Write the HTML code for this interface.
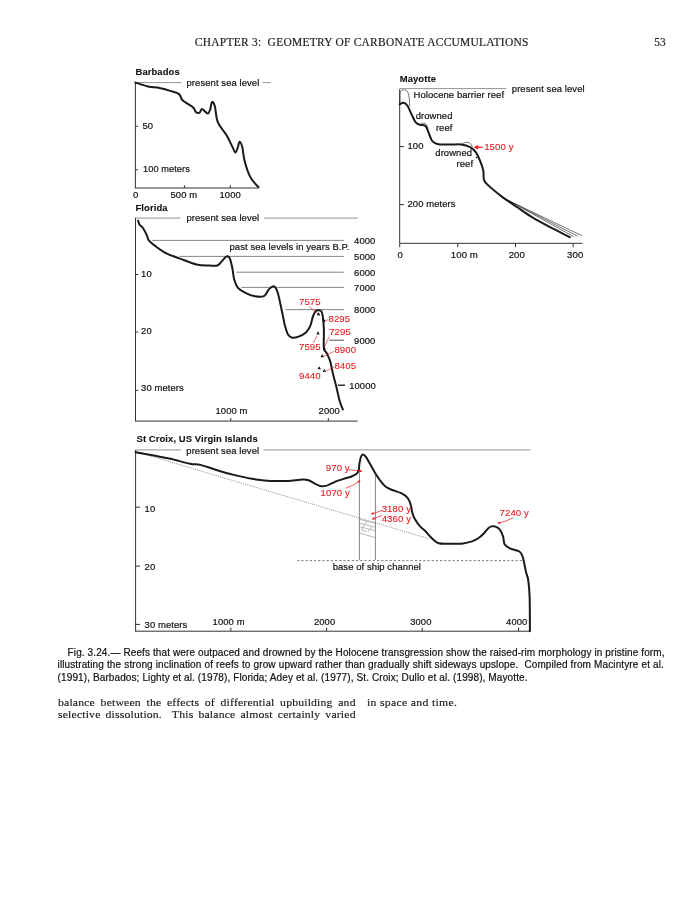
<!DOCTYPE html>
<html><head><meta charset="utf-8"><title>Chapter 3</title>
<style>
html,body{margin:0;padding:0;background:#fff;}
body{width:695px;height:900px;position:relative;overflow:hidden;font-family:"Liberation Sans",sans-serif;color:#111;}
#fig{position:absolute;left:0;top:0;}
#fig text{font-family:"Liberation Sans",sans-serif;letter-spacing:0.09px;}
.hdr{position:absolute;top:34.6px;font-family:"Liberation Serif",serif;font-size:11.45px;line-height:14px;color:#222;white-space:pre;}
#h1{left:194.8px;letter-spacing:0.27px;}
.hdr{-webkit-text-stroke:0.18px #222;}
#h2{left:654.3px;}
.cap{position:absolute;left:57.6px;width:606.4px;top:646.9px;font-size:10px;letter-spacing:0.11px;line-height:12.45px;text-align:justify;color:#111;-webkit-text-stroke:0.2px #111;}
.cap .l{display:block;text-align-last:justify;white-space:nowrap;}
.cap .l.last{text-align-last:left;}
.body{position:absolute;font-family:"Liberation Serif",serif;font-size:11.2px;letter-spacing:0.15px;line-height:12.7px;color:#1a1a1a;-webkit-text-stroke:0.15px #1a1a1a;transform-origin:0 0;transform:scaleX(1.05);}
.body .l{display:block;text-align:justify;text-align-last:justify;white-space:nowrap;}
#b1{left:57.9px;top:695.7px;width:283.5px;}
#b2{left:367.2px;top:695.7px;letter-spacing:0.29px;}
#wrap{position:absolute;left:0;top:0;width:695px;height:900px;will-change:transform;}
</style></head><body><div id="wrap">
<div class="hdr" id="h1">CHAPTER 3:&nbsp; GEOMETRY OF CARBONATE ACCUMULATIONS</div>
<div class="hdr" id="h2">53</div>
<svg id="fig" width="695" height="900" viewBox="0 0 695 900">
<text x="135.5" y="74.5" fill="#111" stroke="#111" stroke-width="0.1" font-size="9.45" font-weight="bold" text-anchor="start">Barbados</text>
<line x1="135.4" y1="82.6" x2="181.4" y2="82.6" stroke="#777" stroke-width="0.8" />
<line x1="262.4" y1="82.6" x2="270.7" y2="82.6" stroke="#777" stroke-width="0.8" />
<text x="186.5" y="85.8" fill="#111" stroke="#111" stroke-width="0.2" font-size="9.45"  text-anchor="start">present sea level</text>
<line x1="135.4" y1="82.6" x2="135.4" y2="188.0" stroke="#333" stroke-width="1" />
<line x1="134.9" y1="188.0" x2="258.8" y2="188.0" stroke="#333" stroke-width="1" />
<line x1="135.4" y1="126.3" x2="138.0" y2="126.3" stroke="#333" stroke-width="1" />
<line x1="135.4" y1="169.8" x2="138.0" y2="169.8" stroke="#333" stroke-width="1" />
<line x1="184.4" y1="188.0" x2="184.4" y2="185.2" stroke="#333" stroke-width="1" />
<line x1="230.3" y1="188.0" x2="230.3" y2="185.2" stroke="#333" stroke-width="1" />
<text x="142.5" y="128.6" fill="#111" stroke="#111" stroke-width="0.2" font-size="9.45"  text-anchor="start">50</text>
<text x="143.0" y="172.1" fill="#111" stroke="#111" stroke-width="0.2" font-size="9.2"  text-anchor="start">100 meters</text>
<text x="133.0" y="197.6" fill="#111" stroke="#111" stroke-width="0.2" font-size="9.45"  text-anchor="start">0</text>
<text x="170.5" y="197.6" fill="#111" stroke="#111" stroke-width="0.2" font-size="9.45"  text-anchor="start">500 m</text>
<text x="219.5" y="197.6" fill="#111" stroke="#111" stroke-width="0.2" font-size="9.45"  text-anchor="start">1000</text>
<path d="M135.4 82.6C137.5 83.2 144.0 85.6 148.0 86.5C152.0 87.4 155.7 87.3 159.5 88.1C163.3 88.9 167.7 90.1 171.0 91.1C174.3 92.1 177.2 92.6 179.1 94.1C181.0 95.6 180.3 98.1 182.6 100.3C184.9 102.5 190.8 105.3 192.9 107.2C195.0 109.1 194.7 110.5 195.4 111.4C196.1 112.4 196.6 112.7 197.3 112.9C198.0 113.1 198.9 113.3 199.7 112.6C200.5 111.9 201.0 109.1 201.9 108.9C202.8 108.7 204.2 110.8 205.2 111.6C206.2 112.4 207.2 113.9 208.0 113.6C208.8 113.2 209.5 111.4 210.2 109.5C210.9 107.6 211.2 102.7 212.0 102.1C212.8 101.5 213.8 102.7 214.8 106.0C215.8 109.3 215.9 117.4 217.8 122.2C219.7 127.0 223.7 130.4 226.3 134.8C228.9 139.2 231.7 145.7 233.2 148.6C234.7 151.5 234.7 152.7 235.5 152.5C236.3 152.3 237.1 149.3 237.8 147.5C238.5 145.7 238.8 141.7 239.6 141.7C240.4 141.7 241.6 144.2 242.4 147.5C243.2 150.8 243.3 156.3 244.7 161.3C246.0 166.3 248.2 173.1 250.5 177.4C252.8 181.7 257.2 185.6 258.5 187.2" fill="none" stroke="#1a1a1a" stroke-width="2" stroke-linejoin="round" stroke-linecap="round" />
<text x="399.7" y="81.6" fill="#111" stroke="#111" stroke-width="0.1" font-size="9.45" font-weight="bold" text-anchor="start">Mayotte</text>
<line x1="399.7" y1="88.6" x2="506.3" y2="88.6" stroke="#777" stroke-width="0.8" />
<text x="511.8" y="91.6" fill="#111" stroke="#111" stroke-width="0.2" font-size="9.45"  text-anchor="start">present sea level</text>
<text x="413.6" y="97.8" fill="#111" stroke="#111" stroke-width="0.2" font-size="9.45"  text-anchor="start">Holocene barrier reef</text>
<line x1="399.7" y1="89.2" x2="399.7" y2="243.3" stroke="#333" stroke-width="1" />
<line x1="399.7" y1="243.3" x2="582.5" y2="243.3" stroke="#333" stroke-width="1" />
<line x1="399.7" y1="146.6" x2="404.0" y2="146.6" stroke="#333" stroke-width="1" />
<line x1="399.7" y1="204.6" x2="404.0" y2="204.6" stroke="#333" stroke-width="1" />
<line x1="399.7" y1="243.3" x2="399.7" y2="247.2" stroke="#333" stroke-width="1" />
<line x1="457.7" y1="243.3" x2="457.7" y2="247.2" stroke="#333" stroke-width="1" />
<line x1="515.5" y1="243.3" x2="515.5" y2="247.2" stroke="#333" stroke-width="1" />
<line x1="573.2" y1="243.3" x2="573.2" y2="247.2" stroke="#333" stroke-width="1" />
<text x="407.5" y="149.0" fill="#111" stroke="#111" stroke-width="0.2" font-size="9.45"  text-anchor="start">100</text>
<text x="407.5" y="206.7" fill="#111" stroke="#111" stroke-width="0.2" font-size="9.45"  text-anchor="start">200 meters</text>
<text x="397.5" y="257.9" fill="#111" stroke="#111" stroke-width="0.2" font-size="9.45"  text-anchor="start">0</text>
<text x="450.8" y="257.9" fill="#111" stroke="#111" stroke-width="0.2" font-size="9.6"  text-anchor="start">100 m</text>
<text x="508.7" y="257.9" fill="#111" stroke="#111" stroke-width="0.2" font-size="9.6"  text-anchor="start">200</text>
<text x="567.1" y="257.9" fill="#111" stroke="#111" stroke-width="0.2" font-size="9.6"  text-anchor="start">300</text>
<text x="415.7" y="118.7" fill="#111" stroke="#111" stroke-width="0.2" font-size="9.45"  text-anchor="start">drowned</text>
<text x="435.9" y="130.8" fill="#111" stroke="#111" stroke-width="0.2" font-size="9.45"  text-anchor="start">reef</text>
<text x="435.3" y="155.8" fill="#111" stroke="#111" stroke-width="0.2" font-size="9.45"  text-anchor="start">drowned</text>
<text x="456.5" y="167.3" fill="#111" stroke="#111" stroke-width="0.2" font-size="9.45"  text-anchor="start">reef</text>
<path d="M399.9 103.7 L400 93 C400.5 89.5 404 89.3 406.6 90.7 C408.8 92.5 409.6 98 409.6 105.8" fill="none" stroke="#1a1a1a" stroke-width="0.6" stroke-linejoin="round" stroke-linecap="round" />
<path d="M420.2 124.6 C422 123 425 123 426.3 124.5 C427.3 125.8 427.6 127 427.8 128.4" fill="none" stroke="#1a1a1a" stroke-width="0.6" stroke-linejoin="round" stroke-linecap="round" />
<path d="M461 144.3 C463 142.2 468 141.8 469.6 142.8 C471 143.8 471.8 145.5 472.2 146.8" fill="none" stroke="#1a1a1a" stroke-width="0.6" stroke-linejoin="round" stroke-linecap="round" />
<line x1="507.0" y1="199.8" x2="573.7" y2="236.6" stroke="#1a1a1a" stroke-width="0.6" />
<line x1="507.0" y1="199.8" x2="577.3" y2="236.0" stroke="#1a1a1a" stroke-width="0.6" />
<line x1="507.0" y1="199.8" x2="581.9" y2="235.7" stroke="#1a1a1a" stroke-width="0.6" />
<path d="M399.7 104.3C400.4 104.0 402.3 102.5 403.6 102.8C404.9 103.0 406.1 103.8 407.5 105.8C408.9 107.8 410.4 112.1 411.8 114.9C413.2 117.7 414.3 120.8 415.7 122.4C417.1 124.1 418.5 124.2 420.2 124.8C421.9 125.4 424.2 124.7 425.7 126.3C427.2 127.9 428.2 132.0 429.3 134.5C430.4 137.0 430.8 139.5 432.3 141.1C433.8 142.7 435.3 143.6 438.3 144.2C441.3 144.8 446.6 144.4 450.4 144.5C454.2 144.6 457.7 144.1 461.0 144.5C464.3 144.9 467.6 145.8 470.1 147.2C472.6 148.5 474.4 150.2 476.1 152.6C477.8 155.0 479.2 158.7 480.4 161.7C481.6 164.7 482.7 167.9 483.3 170.8C483.9 173.7 483.2 176.9 483.9 179.2C484.5 181.5 484.2 181.5 487.2 184.4C490.2 187.3 496.9 192.8 501.8 196.6C506.8 200.4 511.9 203.6 516.9 207.0C521.9 210.4 526.5 213.8 532.0 217.2C537.5 220.6 543.8 223.9 550.1 227.2C556.4 230.5 566.5 235.5 569.8 237.2" fill="none" stroke="#1a1a1a" stroke-width="2" stroke-linejoin="round" stroke-linecap="round" />
<line x1="476.0" y1="147.3" x2="482.6" y2="147.3" stroke="#ea1219" stroke-width="1.2" />
<path d="M473.8 147.3 L478 145.1 L478 149.5 Z" fill="#ea1219"/>
<circle cx="476.6" cy="157.3" r="0.9" fill="#222"/>
<text x="484.2" y="150.3" fill="#ea1219" stroke="#ea1219" stroke-width="0.08" font-size="9.6" text-anchor="start">1500 y</text>
<text x="135.5" y="210.5" fill="#111" stroke="#111" stroke-width="0.1" font-size="9.45" font-weight="bold" text-anchor="start">Florida</text>
<line x1="135.5" y1="218.1" x2="180.4" y2="218.1" stroke="#777" stroke-width="0.8" />
<line x1="264.0" y1="218.1" x2="357.7" y2="218.1" stroke="#777" stroke-width="0.8" />
<text x="186.4" y="221.2" fill="#111" stroke="#111" stroke-width="0.2" font-size="9.45"  text-anchor="start">present sea level</text>
<line x1="135.5" y1="217.7" x2="135.5" y2="421.1" stroke="#333" stroke-width="1" />
<line x1="135.0" y1="421.1" x2="357.7" y2="421.1" stroke="#333" stroke-width="1" />
<line x1="135.5" y1="274.5" x2="138.2" y2="274.5" stroke="#333" stroke-width="1" />
<line x1="135.5" y1="332.0" x2="138.2" y2="332.0" stroke="#333" stroke-width="1" />
<line x1="135.5" y1="390.4" x2="138.2" y2="390.4" stroke="#333" stroke-width="1" />
<line x1="230.8" y1="421.1" x2="230.8" y2="418.0" stroke="#333" stroke-width="1" />
<line x1="328.3" y1="421.1" x2="328.3" y2="418.0" stroke="#333" stroke-width="1" />
<text x="141.1" y="276.6" fill="#111" stroke="#111" stroke-width="0.2" font-size="9.45"  text-anchor="start">10</text>
<text x="141.1" y="334.4" fill="#111" stroke="#111" stroke-width="0.2" font-size="9.45"  text-anchor="start">20</text>
<text x="141.1" y="391.2" fill="#111" stroke="#111" stroke-width="0.2" font-size="9.45"  text-anchor="start">30 meters</text>
<text x="215.5" y="413.7" fill="#111" stroke="#111" stroke-width="0.2" font-size="9.45"  text-anchor="start">1000 m</text>
<text x="318.6" y="413.7" fill="#111" stroke="#111" stroke-width="0.2" font-size="9.45"  text-anchor="start">2000</text>
<line x1="152.2" y1="240.4" x2="343.9" y2="240.4" stroke="#777" stroke-width="0.9" />
<line x1="179.4" y1="256.4" x2="343.9" y2="256.4" stroke="#777" stroke-width="0.9" />
<line x1="236.4" y1="272.2" x2="343.9" y2="272.2" stroke="#777" stroke-width="0.9" />
<line x1="241.4" y1="287.4" x2="343.9" y2="287.4" stroke="#777" stroke-width="0.9" />
<line x1="285.5" y1="309.6" x2="343.9" y2="309.6" stroke="#777" stroke-width="0.9" />
<line x1="329.2" y1="340.2" x2="343.9" y2="340.2" stroke="#444" stroke-width="0.9" />
<line x1="337.8" y1="385.2" x2="345.0" y2="385.2" stroke="#111" stroke-width="1.3" />
<text x="354.1" y="244.0" fill="#111" stroke="#111" stroke-width="0.2" font-size="9.45"  text-anchor="start">4000</text>
<text x="354.1" y="259.6" fill="#111" stroke="#111" stroke-width="0.2" font-size="9.45"  text-anchor="start">5000</text>
<text x="354.1" y="275.5" fill="#111" stroke="#111" stroke-width="0.2" font-size="9.45"  text-anchor="start">6000</text>
<text x="354.1" y="290.6" fill="#111" stroke="#111" stroke-width="0.2" font-size="9.45"  text-anchor="start">7000</text>
<text x="354.1" y="312.8" fill="#111" stroke="#111" stroke-width="0.2" font-size="9.45"  text-anchor="start">8000</text>
<text x="354.1" y="343.7" fill="#111" stroke="#111" stroke-width="0.2" font-size="9.45"  text-anchor="start">9000</text>
<text x="349.2" y="388.8" fill="#111" stroke="#111" stroke-width="0.2" font-size="9.45"  text-anchor="start">10000</text>
<text x="229.5" y="250.3" fill="#111" stroke="#111" stroke-width="0.2" font-size="9.45"  text-anchor="start">past sea levels in years B.P.</text>
<path d="M138.1 220.7C138.3 221.3 138.7 223.3 139.5 224.6C140.3 225.8 141.9 226.4 143.1 228.2C144.3 230.0 145.9 233.3 146.8 235.3C147.8 237.3 147.4 238.5 148.8 240.3C150.2 242.1 152.4 243.8 155.2 245.9C157.9 248.0 161.3 250.7 165.3 252.8C169.3 254.9 174.2 256.4 179.4 258.4C184.6 260.3 191.5 263.3 196.5 264.5C201.5 265.7 206.1 265.3 209.6 265.5C213.1 265.7 215.3 266.2 217.3 265.5C219.3 264.8 220.3 262.8 221.7 261.4C223.1 260.0 224.6 257.8 225.7 257.0C226.8 256.2 227.3 256.0 228.1 256.4C228.8 256.8 229.5 257.4 230.2 259.4C230.9 261.4 231.7 265.1 232.4 268.5C233.1 271.9 233.3 276.4 234.2 279.6C235.1 282.8 235.9 285.4 237.8 287.6C239.8 289.9 243.1 291.7 245.9 293.1C248.8 294.6 251.9 295.8 254.9 296.3C257.9 296.8 261.6 297.3 264.0 296.1C266.4 294.9 267.5 290.7 269.0 289.1C270.5 287.5 271.7 286.6 272.8 286.4C273.9 286.2 274.9 286.6 275.8 288.1C276.8 289.6 277.5 291.7 278.5 295.4C279.5 299.1 280.6 305.3 281.7 310.2C282.8 315.1 283.8 320.9 284.8 325.0C285.9 329.1 286.8 332.4 288.0 334.5C289.2 336.6 290.4 337.3 292.2 337.7C294.0 338.1 296.3 337.5 298.6 336.6C300.9 335.7 304.0 334.1 305.9 332.4C307.8 330.6 309.0 328.7 310.2 326.1C311.4 323.5 312.0 319.1 312.9 316.6C313.8 314.1 314.4 312.4 315.4 311.3C316.3 310.2 317.6 310.2 318.6 310.2C319.6 310.2 320.7 310.2 321.4 311.3C322.1 312.4 322.4 313.6 322.8 316.6C323.2 319.6 323.7 323.9 323.9 329.2C324.1 334.5 323.4 344.2 323.9 348.2C324.4 352.2 325.7 351.1 326.7 353.2C327.7 355.3 329.1 357.5 330.1 360.9C331.1 364.3 331.9 369.4 332.9 373.6C333.9 377.8 335.1 381.6 336.2 386.2C337.3 390.8 338.6 397.1 339.7 401.0C340.8 404.9 342.4 408.1 342.9 409.5" fill="none" stroke="#1a1a1a" stroke-width="2" stroke-linejoin="round" stroke-linecap="round" />
<text x="299.0" y="304.9" fill="#ea1219" stroke="#ea1219" stroke-width="0.08" font-size="9.6" text-anchor="start">7575</text>
<text x="328.5" y="321.8" fill="#ea1219" stroke="#ea1219" stroke-width="0.08" font-size="9.6" text-anchor="start">8295</text>
<text x="329.2" y="334.9" fill="#ea1219" stroke="#ea1219" stroke-width="0.08" font-size="9.6" text-anchor="start">7295</text>
<text x="299.0" y="349.7" fill="#ea1219" stroke="#ea1219" stroke-width="0.08" font-size="9.6" text-anchor="start">7595</text>
<text x="334.4" y="352.9" fill="#ea1219" stroke="#ea1219" stroke-width="0.08" font-size="9.6" text-anchor="start">8900</text>
<text x="334.4" y="368.7" fill="#ea1219" stroke="#ea1219" stroke-width="0.08" font-size="9.6" text-anchor="start">8405</text>
<text x="299.0" y="378.8" fill="#ea1219" stroke="#ea1219" stroke-width="0.08" font-size="9.6" text-anchor="start">9440</text>
<line x1="309.1" y1="306.4" x2="318.6" y2="314.4" stroke="#ea1219" stroke-width="0.6" />
<line x1="328.1" y1="319.7" x2="323.9" y2="321.2" stroke="#ea1219" stroke-width="0.6" />
<line x1="329.2" y1="336.6" x2="324.3" y2="347.2" stroke="#ea1219" stroke-width="0.6" />
<line x1="313.3" y1="342.9" x2="317.1" y2="335.6" stroke="#ea1219" stroke-width="0.6" />
<line x1="334.0" y1="351.4" x2="322.8" y2="356.7" stroke="#ea1219" stroke-width="0.6" />
<line x1="334.0" y1="366.8" x2="324.9" y2="371.9" stroke="#ea1219" stroke-width="0.6" />
<path d="M317.5 315.4 l1.1 -2 l1.1 2" fill="none" stroke="#111" stroke-width="1.1"/>
<path d="M322.8 322.0 l1.1 -2 l1.1 2" fill="none" stroke="#111" stroke-width="1.1"/>
<path d="M316.9 334.4 l1.1 -2 l1.1 2" fill="none" stroke="#111" stroke-width="1.1"/>
<path d="M323.2 349.6 l1.1 -2 l1.1 2" fill="none" stroke="#111" stroke-width="1.1"/>
<path d="M321.1 357.2 l1.1 -2 l1.1 2" fill="none" stroke="#111" stroke-width="1.1"/>
<path d="M318.1 369.3 l1.1 -2 l1.1 2" fill="none" stroke="#111" stroke-width="1.1"/>
<path d="M323.2 372.0 l1.1 -2 l1.1 2" fill="none" stroke="#111" stroke-width="1.1"/>
<text x="136.5" y="441.6" fill="#111" stroke="#111" stroke-width="0.1" font-size="9.45" font-weight="bold" text-anchor="start">St Croix, US Virgin Islands</text>
<line x1="135.6" y1="449.9" x2="180.9" y2="449.9" stroke="#a8a8a8" stroke-width="1.4" />
<line x1="263.4" y1="449.9" x2="530.5" y2="449.9" stroke="#a8a8a8" stroke-width="1.4" />
<text x="186.3" y="453.8" fill="#111" stroke="#111" stroke-width="0.2" font-size="9.45"  text-anchor="start">present sea level</text>
<line x1="135.6" y1="449.8" x2="135.6" y2="631.2" stroke="#333" stroke-width="1" />
<line x1="135.1" y1="631.2" x2="530.4" y2="631.2" stroke="#333" stroke-width="1" />
<line x1="135.6" y1="507.2" x2="140.0" y2="507.2" stroke="#333" stroke-width="1" />
<line x1="135.6" y1="566.1" x2="140.0" y2="566.1" stroke="#333" stroke-width="1" />
<line x1="135.6" y1="624.4" x2="140.0" y2="624.4" stroke="#333" stroke-width="1" />
<line x1="230.8" y1="631.2" x2="230.8" y2="627.6" stroke="#333" stroke-width="1" />
<line x1="326.7" y1="631.2" x2="326.7" y2="627.6" stroke="#333" stroke-width="1" />
<line x1="422.2" y1="631.2" x2="422.2" y2="627.6" stroke="#333" stroke-width="1" />
<line x1="518.6" y1="631.2" x2="518.6" y2="627.6" stroke="#333" stroke-width="1" />
<text x="144.6" y="511.5" fill="#111" stroke="#111" stroke-width="0.2" font-size="9.45"  text-anchor="start">10</text>
<text x="144.6" y="569.9" fill="#111" stroke="#111" stroke-width="0.2" font-size="9.45"  text-anchor="start">20</text>
<text x="144.6" y="627.9" fill="#111" stroke="#111" stroke-width="0.2" font-size="9.45"  text-anchor="start">30 meters</text>
<text x="212.6" y="625.0" fill="#111" stroke="#111" stroke-width="0.2" font-size="9.45"  text-anchor="start">1000 m</text>
<text x="313.9" y="625.0" fill="#111" stroke="#111" stroke-width="0.2" font-size="9.45"  text-anchor="start">2000</text>
<text x="410.2" y="625.0" fill="#111" stroke="#111" stroke-width="0.2" font-size="9.45"  text-anchor="start">3000</text>
<text x="506.1" y="625.0" fill="#111" stroke="#111" stroke-width="0.2" font-size="9.45"  text-anchor="start">4000</text>
<line x1="135.6" y1="451.6" x2="429.2" y2="538.8" stroke="#444" stroke-width="0.6" stroke-dasharray="1 1"/>
<line x1="297.2" y1="560.6" x2="522.6" y2="560.6" stroke="#444" stroke-width="0.7" stroke-dasharray="2.2 2"/>
<text x="332.7" y="569.7" fill="#111" stroke="#111" stroke-width="0.2" font-size="9.45"  text-anchor="start">base of ship channel</text>
<line x1="359.4" y1="466.0" x2="359.4" y2="560.0" stroke="#333" stroke-width="0.6" />
<line x1="375.4" y1="473.5" x2="375.4" y2="560.0" stroke="#333" stroke-width="0.6" />
<line x1="359.4" y1="519.3" x2="375.4" y2="523.3" stroke="#777" stroke-width="0.5" />
<line x1="359.4" y1="523.1" x2="375.4" y2="527.3" stroke="#777" stroke-width="0.5" />
<line x1="359.4" y1="526.7" x2="375.4" y2="530.7" stroke="#777" stroke-width="0.5" />
<line x1="359.4" y1="533.0" x2="375.4" y2="537.6" stroke="#777" stroke-width="0.5" />
<line x1="361.7" y1="530.0" x2="367.0" y2="531.6" stroke="#777" stroke-width="0.5" />
<line x1="366.0" y1="521.2" x2="366.0" y2="523.8" stroke="#777" stroke-width="0.5" />
<line x1="371.0" y1="526.4" x2="371.0" y2="529.0" stroke="#777" stroke-width="0.5" />
<line x1="364.0" y1="524.6" x2="364.0" y2="527.2" stroke="#777" stroke-width="0.5" />
<line x1="369.0" y1="529.4" x2="369.0" y2="532.0" stroke="#777" stroke-width="0.5" />
<line x1="362.0" y1="527.6" x2="362.0" y2="530.2" stroke="#777" stroke-width="0.5" />
<path d="M135.6 452.2C138.9 452.8 149.4 454.7 155.2 455.8C161.0 456.9 164.5 457.5 170.3 458.8C176.1 460.1 185.0 462.7 190.0 463.7C195.0 464.7 196.2 463.9 200.5 464.9C204.8 465.9 210.0 468.0 215.6 469.7C221.2 471.4 227.8 473.4 233.8 474.9C239.9 476.4 245.9 477.8 251.9 478.8C257.9 479.8 263.9 480.5 270.0 480.9C276.1 481.2 283.1 481.1 288.2 480.9C293.2 480.7 297.0 479.8 300.3 479.7C303.6 479.6 305.3 479.3 307.8 480.0C310.3 480.7 313.1 482.8 315.4 483.9C317.7 484.9 319.4 486.1 321.4 486.3C323.4 486.6 325.1 486.1 327.4 485.4C329.7 484.6 332.4 482.9 335.0 481.8C337.6 480.8 340.3 480.0 343.0 479.1C345.7 478.2 348.8 477.6 351.0 476.7C353.2 475.8 355.0 475.1 356.3 474.0C357.6 472.9 358.2 471.8 358.7 470.0C359.2 468.2 359.1 465.5 359.5 463.3C359.9 461.1 360.4 458.1 361.0 456.7C361.6 455.2 362.2 454.6 363.0 454.6C363.8 454.6 364.6 455.2 365.7 456.7C366.8 458.1 368.1 460.6 369.7 463.3C371.2 466.0 373.2 469.8 375.0 472.7C376.8 475.6 378.5 478.4 380.3 480.7C382.1 483.0 383.7 485.1 385.7 486.7C387.7 488.2 389.6 488.9 392.3 490.0C395.0 491.1 399.1 492.0 401.7 493.3C404.3 494.6 406.2 496.1 407.7 498.0C409.2 499.9 409.9 502.2 410.7 504.7C411.5 507.1 411.6 510.3 412.3 512.7C413.0 515.1 413.7 517.0 415.0 519.3C416.3 521.6 418.6 524.8 420.3 526.7C422.0 528.6 423.0 528.7 425.0 530.7C427.0 532.7 430.1 536.7 432.4 538.8C434.7 540.9 435.8 542.5 438.7 543.3C441.6 544.1 445.9 543.7 450.0 543.7C454.1 543.7 459.3 543.8 463.0 543.4C466.7 543.0 469.4 542.2 472.0 541.4C474.6 540.5 476.3 539.7 478.3 538.3C480.3 536.9 482.3 534.9 484.0 533.2C485.7 531.5 487.1 529.3 488.3 528.2C489.6 527.1 490.3 526.7 491.5 526.4C492.7 526.1 494.1 526.0 495.5 526.6C496.9 527.2 498.8 528.2 500.0 529.8C501.2 531.4 502.2 533.9 503.0 536.3C503.8 538.7 503.5 542.2 504.6 544.2C505.8 546.2 507.4 547.1 509.9 548.3C512.4 549.5 517.3 550.1 519.4 551.5C521.5 552.9 521.6 553.6 522.7 556.9C523.8 560.2 524.9 567.1 525.8 571.1C526.7 575.1 527.7 576.4 528.3 580.6C528.9 584.8 529.3 588.0 529.6 596.4C529.9 604.8 529.9 625.5 529.9 631.3" fill="none" stroke="#1a1a1a" stroke-width="2" stroke-linejoin="round" stroke-linecap="round" />
<text x="325.8" y="470.5" fill="#ea1219" stroke="#ea1219" stroke-width="0.08" font-size="9.6" text-anchor="start">970 y</text>
<text x="320.6" y="495.8" fill="#ea1219" stroke="#ea1219" stroke-width="0.08" font-size="9.6" text-anchor="start">1070 y</text>
<text x="381.7" y="511.6" fill="#ea1219" stroke="#ea1219" stroke-width="0.08" font-size="9.6" text-anchor="start">3180 y</text>
<text x="381.7" y="522.0" fill="#ea1219" stroke="#ea1219" stroke-width="0.08" font-size="9.6" text-anchor="start">4360 y</text>
<text x="499.6" y="515.7" fill="#ea1219" stroke="#ea1219" stroke-width="0.08" font-size="9.6" text-anchor="start">7240 y</text>
<path d="M348.3 469.7 L360 470.9" fill="none" stroke="#ea1219" stroke-width="0.7" stroke-linejoin="round" stroke-linecap="round" />
<path d="M362.6 471.2 L359.3 472.2 L359.5 469.6 Z" fill="#ea1219"/>
<path d="M346.3 488 Q354 485.5 358.6 481.6" fill="none" stroke="#ea1219" stroke-width="0.7" stroke-linejoin="round" stroke-linecap="round" />
<path d="M360.6 480.2 L358.8 483.1 L357.3 481.0 Z" fill="#ea1219"/>
<path d="M381.7 510.7 L373 513.5" fill="none" stroke="#ea1219" stroke-width="0.7" stroke-linejoin="round" stroke-linecap="round" />
<path d="M370.5 514.3 L373.2 512.1 L373.9 514.6 Z" fill="#ea1219"/>
<path d="M381.7 515.6 L374 518.5" fill="none" stroke="#ea1219" stroke-width="0.7" stroke-linejoin="round" stroke-linecap="round" />
<path d="M371.5 519.4 L374.1 517.1 L375.0 519.5 Z" fill="#ea1219"/>
<path d="M513.1 517.9 Q505 522 499.5 522.8" fill="none" stroke="#ea1219" stroke-width="0.7" stroke-linejoin="round" stroke-linecap="round" />
<path d="M497.0 523.0 L500.1 521.5 L500.3 524.1 Z" fill="#ea1219"/>
</svg>
<div class="cap"><span class="l" style="padding-left:10px">Fig. 3.24.&mdash; Reefs that were outpaced and drowned by the Holocene transgression show the raised-rim morphology in pristine form,</span><span class="l">illustrating the strong inclination of reefs to grow upward rather than gradually shift sideways upslope.&nbsp; Compiled from Macintyre et al.</span><span class="l last">(1991), Barbados; Lighty et al. (1978), Florida; Adey et al. (1977), St. Croix; Dullo et al. (1998), Mayotte.</span></div>
<div class="body" id="b1"><span class="l">balance between the effects of differential upbuilding and</span><span class="l">selective dissolution.&nbsp; This balance almost certainly varied</span></div>
<div class="body" id="b2">in space and time.</div>
</div></body></html>
